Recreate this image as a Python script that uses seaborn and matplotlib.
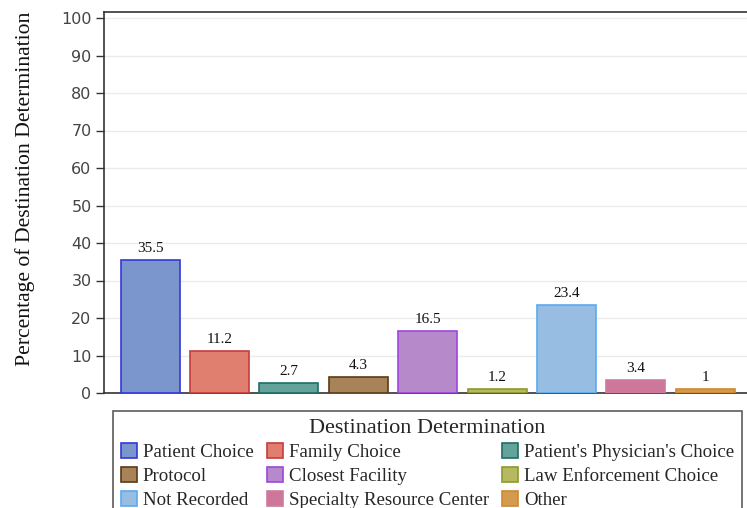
import matplotlib
matplotlib.use("Agg")
import matplotlib.pyplot as plt
from matplotlib.patches import Patch
import seaborn as sns
import pandas as pd

# Chart data
categories = ["Patient Choice", "Family Choice", "Patient's Physician's Choice",
              "Protocol", "Closest Facility", "Law Enforcement Choice",
              "Not Recorded", "Specialty Resource Center", "Other"]
percentages = [35.5, 11.2, 2.7, 4.3, 16.5, 1.2, 23.4, 3.4, 1]
bar_labels = ["35.5", "11.2", "2.7", "4.3", "16.5", "1.2", "23.4", "3.4", "1"]
yticks = [0, 10, 20, 30, 40, 50, 60, 70, 80, 90, 100]

fill_colors = ["#7b96cc", "#e07f70", "#64a39b", "#a8835a", "#b68aca",
               "#b6b95f", "#97bde3", "#cd789a", "#d49a4e"]
edge_colors = ["#3737d8", "#c83c3c", "#1f6e63", "#5a3b18", "#a044e0",
               "#8c9a2c", "#5aaaf0", "#d07aa0", "#d08830"]

df = pd.DataFrame({"category": categories, "pct": percentages})

sns.set_style("white")
plt.rcParams['font.family'] = ['DejaVu Sans']

fig = plt.figure(figsize=(7.47, 5.08), dpi=100)
ax = fig.add_axes([104 / 747, (508 - 393) / 508, (747 - 104) / 747, (393 - 12) / 508])

sns.barplot(data=df, x="category", y="pct", hue="category", order=categories,
            hue_order=categories, palette=fill_colors, dodge=False, width=0.85,
            legend=False, ax=ax, saturation=1)

for bar, ec in zip(ax.patches, edge_colors):
    bar.set_edgecolor(ec)
    bar.set_linewidth(1.2)
    bar.set_zorder(3)

for i, (v, lab) in enumerate(zip(percentages, bar_labels)):
    ax.text(i, v + 1.3, lab, ha="center", va="bottom", fontsize=11,
            family="Liberation Serif", color="#111111")

ax.set_xlim(-0.663, 8.6)
ax.set_ylim(0, 101.6)
ax.set_yticks(yticks)
ax.set_xticks([])
ax.set_xlabel("")
ax.set_ylabel("Percentage of Destination Determination", family="Liberation Serif",
              fontsize=15.6, color="#111111")
ax.yaxis.set_label_coords(-0.107, 0.537)
ax.tick_params(axis="y", direction="out", length=6, width=1, color="#333333",
               labelsize=11.5, labelcolor="#444444", left=True, pad=3)
ax.yaxis.grid(True, color="#ebebeb", linewidth=1)
ax.set_axisbelow(True)
for side in ["left", "bottom", "top"]:
    ax.spines[side].set_color("#333333")
    ax.spines[side].set_linewidth(1.2)
ax.spines["right"].set_visible(False)

# legend in column-major order to get row-wise layout
order = [0, 3, 6, 1, 4, 7, 2, 5, 8]
handles = [Patch(facecolor=fill_colors[k], edgecolor=edge_colors[k], linewidth=1.2)
           for k in order]
labels = [categories[k] for k in order]
leg = fig.legend(handles, labels, ncol=3, loc="upper left",
                 bbox_to_anchor=(113 / 747, 1 - 411 / 508),
                 title="Destination Determination",
                 prop={"family": "Liberation Serif", "size": 13.6},
                 title_fontproperties={"family": "Liberation Serif", "size": 16},
                 frameon=True, fancybox=False, edgecolor="#333333",
                 handlelength=0.85, handleheight=0.85, handletextpad=0.32,
                 columnspacing=0.7, labelspacing=0.3, borderpad=0.4,
                 borderaxespad=0)
leg.get_frame().set_linewidth(1.2)

fig.savefig("out.png", dpi=100)
